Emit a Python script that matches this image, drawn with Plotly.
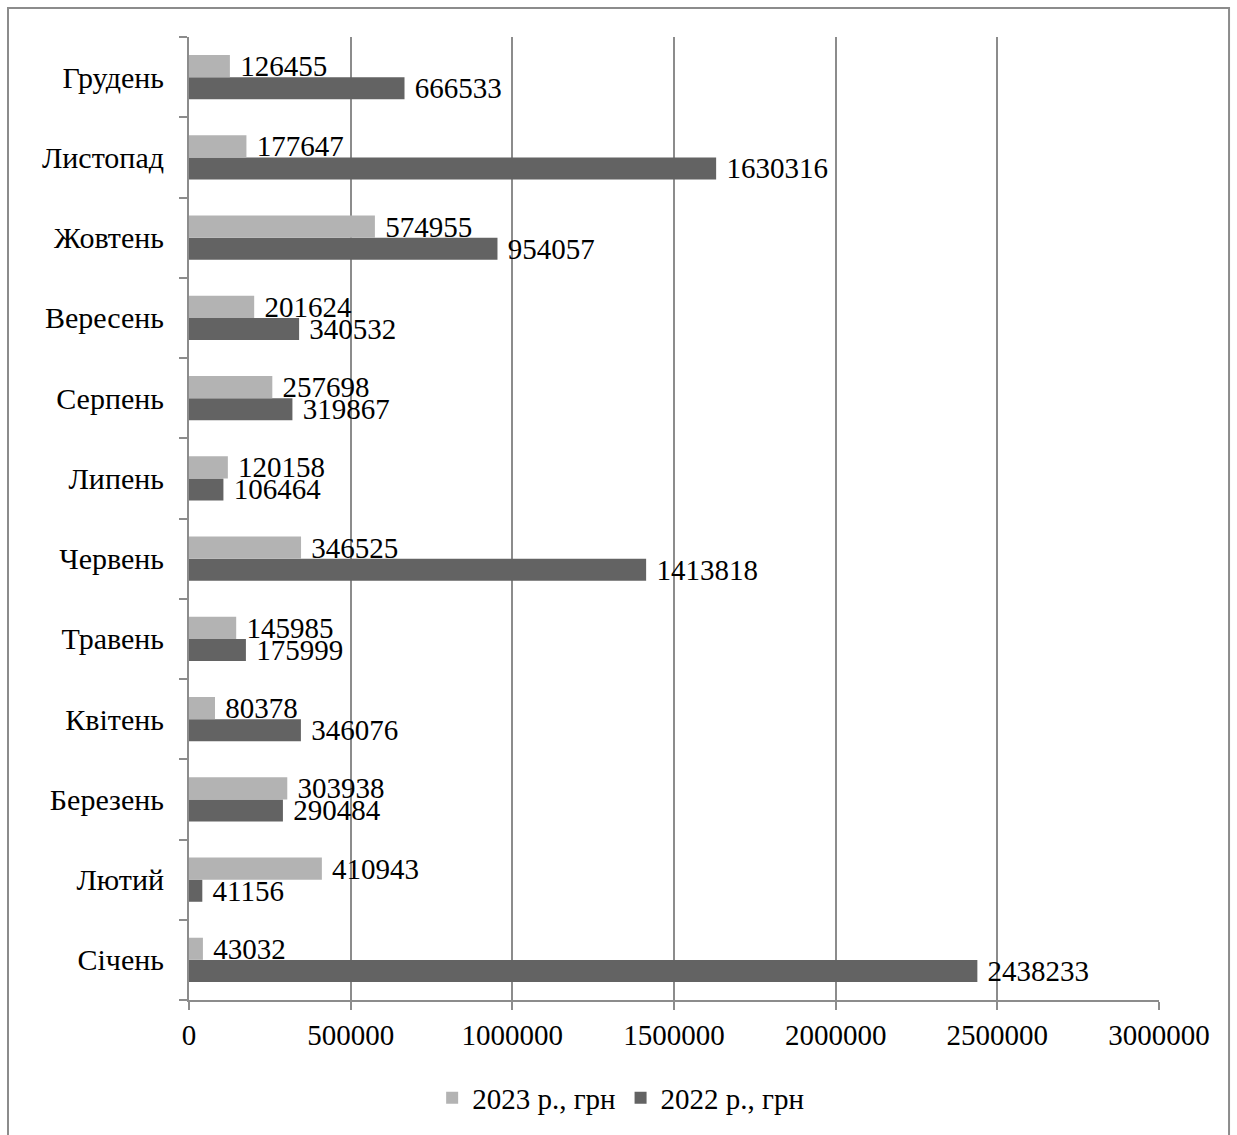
import plotly.graph_objects as go

# Monthly amounts, UAH
months = ["Січень", "Лютий", "Березень", "Квітень", "Травень", "Червень",
          "Липень", "Серпень", "Вересень", "Жовтень", "Листопад", "Грудень"]
values_2023 = [43032, 410943, 303938, 80378, 145985, 346525,
               120158, 257698, 201624, 574955, 177647, 126455]
values_2022 = [2438233, 41156, 290484, 346076, 175999, 1413818,
               106464, 319867, 340532, 954057, 1630316, 666533]
x_ticks = [0, 500000, 1000000, 1500000, 2000000, 2500000, 3000000]

FONT = "Liberation Serif, Times New Roman, serif"
LIGHT = "#b3b3b3"
DARK = "#636363"
GRID = "#8c8c8c"

fig = go.Figure()
# 2022 drawn first so it sits below 2023 inside each month group
fig.add_trace(go.Bar(
    y=months, x=values_2022, orientation="h", name="2022 р., грн",
    marker=dict(color=DARK, line=dict(width=0)),
    texttemplate="\u00a0%{x}", textposition="outside",
    textfont=dict(family=FONT, size=29, color="#000000"),
    cliponaxis=False, constraintext="none", legendrank=2,
))
fig.add_trace(go.Bar(
    y=months, x=values_2023, orientation="h", name="2023 р., грн",
    marker=dict(color=LIGHT, line=dict(width=0)),
    texttemplate="\u00a0%{x}", textposition="outside",
    textfont=dict(family=FONT, size=29, color="#000000"),
    cliponaxis=False, constraintext="none", legendrank=1,
))

fig.update_layout(
    width=1237, height=1135,
    margin=dict(l=189, r=78, t=37, b=133),
    paper_bgcolor="white", plot_bgcolor="white",
    barmode="group", bargap=0.448, bargroupgap=0,
    font=dict(family=FONT, size=29, color="#000000"),
    showlegend=True,
    legend=dict(orientation="h", x=0.445, xanchor="center", y=-0.1016,
                yanchor="middle", font=dict(family=FONT, size=29),
                itemwidth=30, bgcolor="rgba(0,0,0,0)"),
    xaxis=dict(range=[0, 3000000], tickvals=x_ticks, tickformat="d",
               showgrid=True, gridcolor=GRID, gridwidth=2,
               showline=True, linecolor=GRID, linewidth=2,
               ticks="outside", ticklen=8, tickcolor=GRID, tickwidth=2,
               zeroline=False, tickfont=dict(family=FONT, size=29),
               fixedrange=True),
    yaxis=dict(categoryorder="array", categoryarray=months,
               showline=True, linecolor=GRID, linewidth=2,
               ticks="outside", ticklen=8, tickcolor=GRID, tickwidth=2,
               tickson="boundaries", showgrid=False,
               ticklabelstandoff=17,
               tickfont=dict(family=FONT, size=30), fixedrange=True),
    shapes=[dict(type="rect", xref="paper", yref="paper",
                 x0=-0.1866, x1=1.0722, y0=-0.145, y1=1.0301,
                 line=dict(color=GRID, width=2), fillcolor="rgba(0,0,0,0)",
                 layer="below")],
)

fig.write_html("out.html")
